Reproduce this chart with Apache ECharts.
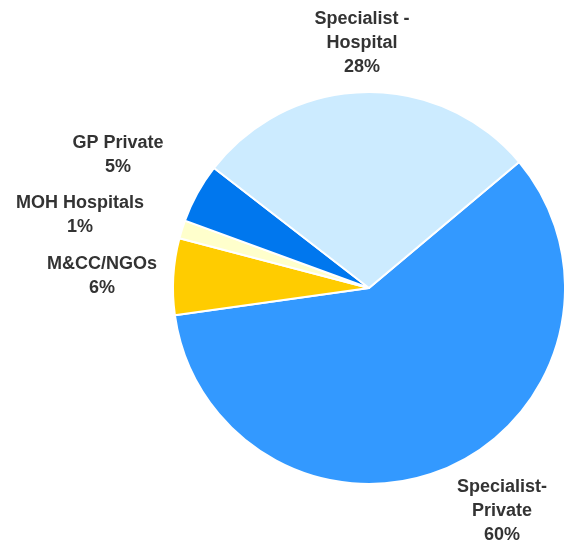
<!DOCTYPE html>
<html>
<head>
<meta charset="utf-8">
<script src="https://cdn.jsdelivr.net/npm/echarts@6/dist/echarts.min.js"></script>
<style>
  html, body { margin: 0; padding: 0; background: #fff; }
  #chart { width: 564px; height: 544px; }
</style>
</head>
<body>
<div id="chart"></div>
<script>
// slices, clockwise from the upper right
const categories = ['Specialist-\nPrivate', 'M&CC/NGOs', 'MOH Hospitals', 'GP Private', 'Specialist -\nHospital'];
const shares = [58.9, 6.3, 1.5, 4.9, 28.4];
const pctLabels = ['60%', '6%', '1%', '5%', '28%'];

const colors = ['#3399FF', '#FFCC00', '#FFFFCC', '#0077EE', '#CCEBFF'];
// where each label block sits (centre of the text)
const labelPos = [[502, 511], [102, 276], [80, 215], [118, 155], [362, 43]];

const chart = echarts.init(document.getElementById('chart'));

const option = {
  animation: false,
  series: [
    {
      type: 'pie',
      center: [369, 288],
      radius: 196,
      startAngle: 40,
      clockwise: true,
      data: categories.map((name, i) => ({
        name: name,
        value: shares[i],
        itemStyle: { color: colors[i] }
      })),
      itemStyle: {
        borderColor: '#fff',
        borderWidth: 2
      },
      label: {
        show: true,
        position: 'outside',
        formatter: (p) => p.name + '\n' + pctLabels[p.dataIndex],
        fontFamily: 'Liberation Sans',
        fontWeight: 'bold',
        fontSize: 18,
        lineHeight: 24,
        color: '#333333',
        align: 'center',
        overflow: 'none',
        width: 200
      },
      labelLine: { show: false },
      labelLayout: (params) => ({
        x: labelPos[params.dataIndex][0],
        y: labelPos[params.dataIndex][1],
        align: 'center',
        verticalAlign: 'middle'
      }),
      emphasis: { disabled: true }
    }
  ]
};

chart.setOption(option);
window.addEventListener('resize', function () {
  chart.resize();
});
</script>
</body>
</html>
